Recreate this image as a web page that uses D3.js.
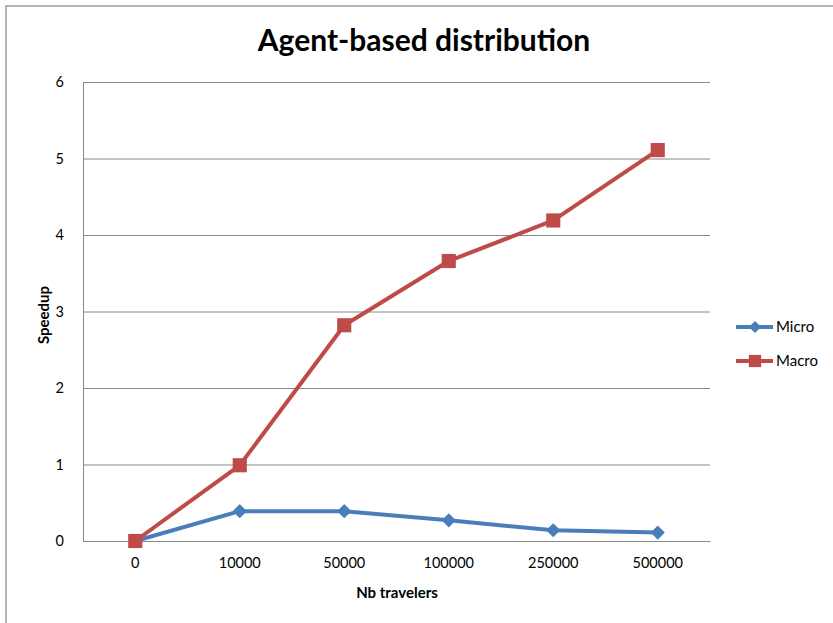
<!DOCTYPE html>
<html><head><meta charset="utf-8">
<script src="https://cdn.jsdelivr.net/npm/d3@7"></script>
<style>body{margin:0;background:#fff}svg{display:block}text{font-family:Lato,"Open Sans",sans-serif}</style>
</head><body>
<svg id="c" width="833" height="623"></svg>
<script>
const categories = ["0","10000","50000","100000","250000","500000"];
const microValues = [0, 0.39, 0.39, 0.27, 0.14, 0.11];
const macroValues = [0, 0.99, 2.82, 3.66, 4.19, 5.11];
const yTicks = [0,1,2,3,4,5,6];
const seriesNames = ["Micro","Macro"];
const colors = ["#4a7ebb","#be4b48"];

const svg = d3.select("#c");
const L=83,R=710,T=82,B=541;
svg.append("rect").attr("x",6).attr("y",6).attr("width",900).attr("height",700)
  .attr("fill","none").attr("stroke","#b3b3b3").attr("stroke-width",2);

const x = d3.scaleBand().domain(categories).range([L,R]);
const y = d3.scaleLinear().domain([0,6]).range([B,T]);

svg.append("g").selectAll("line").data(yTicks).join("line")
  .attr("x1",L).attr("x2",R).attr("y1",d=>y(d)+0.5).attr("y2",d=>y(d)+0.5)
  .attr("stroke","#888").attr("stroke-width",1);

const ya = svg.append("g").attr("transform",`translate(${L},0)`)
  .call(d3.axisLeft(y).tickValues(yTicks).tickFormat(d3.format("d")).tickSize(0).tickPadding(19));
ya.select(".domain").attr("stroke","#888");
ya.selectAll("text").attr("font-size",14.5).attr("fill","#000");

const xa = svg.append("g").attr("transform",`translate(0,${B})`)
  .call(d3.axisBottom(x).tickSize(0).tickPadding(17));
xa.select(".domain").attr("stroke","#888");
xa.selectAll("text").attr("font-size",14.5).attr("fill","#000");

svg.append("text").attr("x",424).attr("y",51).attr("text-anchor","middle")
  .attr("font-size",30).attr("font-weight","bold").text("Agent-based distribution");
svg.append("text").attr("x",397).attr("y",598).attr("text-anchor","middle")
  .attr("font-size",15).attr("font-weight","bold").text("Nb travelers");
svg.append("text").attr("transform","translate(49,315) rotate(-90)").attr("text-anchor","middle")
  .attr("font-size",15).attr("font-weight","bold").text("Speedup");

const cx = d=>x(d)+x.bandwidth()/2;
const line = d3.line().x((d,i)=>cx(categories[i])).y(d=>y(d));
const sets=[microValues,macroValues];
const rot=[45,0];
const sizes=[100,200];
sets.forEach((vals,k)=>{
  svg.append("path").datum(vals).attr("d",line).attr("fill","none")
    .attr("stroke",colors[k]).attr("stroke-width",4).attr("stroke-linejoin","round");
  svg.append("g").selectAll("path").data(vals).join("path")
    .attr("transform",(d,i)=>`translate(${cx(categories[i])},${y(d)}) rotate(${rot[k]})`)
    .attr("d",d3.symbol().type(d3.symbolSquare).size(sizes[k])).attr("fill",colors[k]);
});

seriesNames.forEach((n,k)=>{
  const ly=327+k*34;
  svg.append("line").attr("x1",736).attr("x2",773).attr("y1",ly).attr("y2",ly)
    .attr("stroke",colors[k]).attr("stroke-width",4);
  svg.append("path").attr("transform",`translate(755,${ly}) rotate(${rot[k]})`)
    .attr("d",d3.symbol().type(d3.symbolSquare).size(sizes[k]*0.75)).attr("fill",colors[k]);
  svg.append("text").attr("x",776).attr("y",ly+5).attr("font-size",15).text(n);
});
</script>
</body></html>
